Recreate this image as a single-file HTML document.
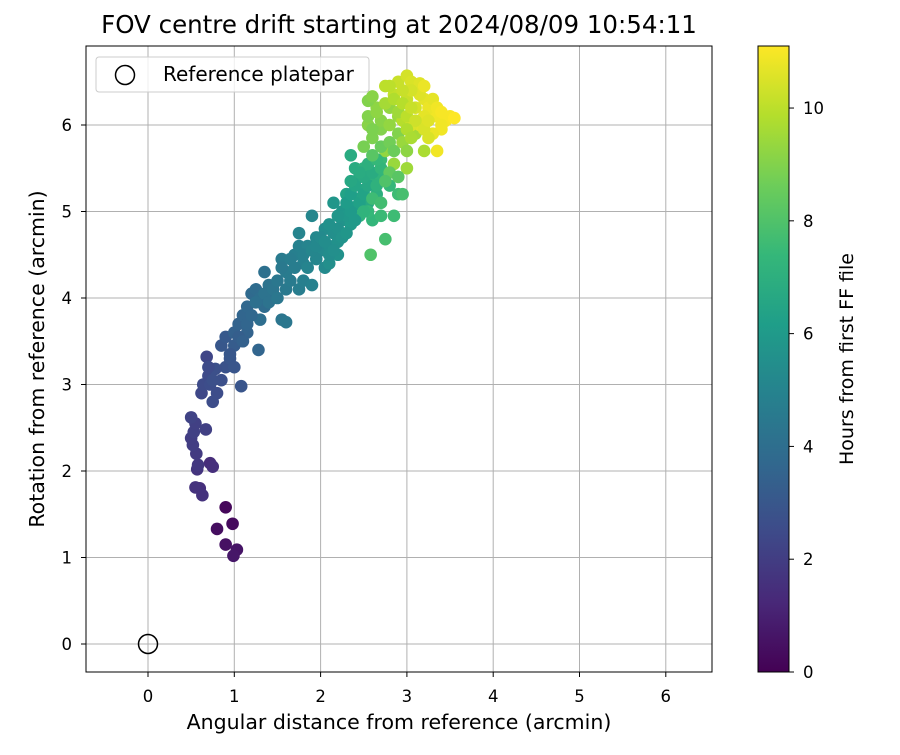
<!DOCTYPE html>
<html><head><meta charset="utf-8"><style>
body{margin:0;background:#fff;}
svg text{font-family:"DejaVu Sans","Liberation Sans",sans-serif;fill:#000;}
</style></head><body>
<svg id="chart" width="900" height="750" xmlns="http://www.w3.org/2000/svg"></svg>
<script>
const xs=[0.9,0.98,0.8,0.9,1.03,0.99,
0.6,0.55,0.63,0.72,0.75,0.57,0.58,0.56,0.52,0.5,0.53,0.55,0.5,0.67,
0.62,0.64,0.7,0.68,0.75,0.8,0.85,0.9,0.95,0.85,0.9,1.08,0.72,0.78,
1.0,1.05,1.1,1.15,1.2,1.25,1.3,1.3,1.28,1.15,1.35,1.4,1.55,1.6,1.45,1.35,
1.55,1.6,1.7,1.75,1.8,1.75,1.9,1.85,1.95,2.0,2.05,1.75,1.8,1.9,2.05,2.1,2.15,2.2,2.25,2.15,2.25,2.3,2.35,2.4,2.2,2.1,
2.4,2.45,2.5,2.35,2.4,2.55,2.6,2.5,2.45,2.45,2.6,2.7,2.85,2.75,2.58,2.55,2.3,2.65,2.7,2.8,2.9,2.95,2.7,
2.5,2.6,2.7,2.55,2.65,2.55,2.6,2.8,2.9,2.75,2.85,3.0,3.1,3.2,2.55,
2.75,2.85,2.9,3.0,3.05,3.1,3.15,3.2,3.25,3.3,3.35,3.45,3.5,3.55,3.4,3.3,3.15,3.1,3.0,2.95,3.2,3.35,3.4,3.05,
1.25,1.35,1.45,1.5,1.4,1.5,1.6,1.65,1.55,1.7,1.65,1.8,1.85,1.95,1.9,1.95,2.0,2.05,2.1,2.15,2.2,2.1,2.25,2.3,2.3,2.35,2.4,2.2,2.3,2.35,2.45,2.5,2.4,2.55,2.5,2.6,2.55,2.65,2.7,2.65,2.45,2.35,1.0,1.05,1.1,1.15,1.2,0.95,1.0,0.75,0.7,
2.6,2.7,2.8,2.85,2.9,2.6,2.7,2.8,2.9,2.65,2.75,2.85,2.95,3.0,3.05,3.1,3.0,2.95,3.05,3.2,3.25,3.3,3.15,3.2,3.05,2.95,2.8,3.35,3.4,3.25,3.0,2.8,2.9,2.75,2.6,2.7,2.5];
const ys=[1.58,1.39,1.33,1.15,1.09,1.02,
1.8,1.81,1.72,2.09,2.05,2.02,2.07,2.2,2.3,2.38,2.45,2.55,2.62,2.48,
2.9,3.0,3.1,3.32,2.8,2.9,3.05,3.2,3.3,3.45,3.55,2.98,3.0,3.18,
3.6,3.7,3.8,3.9,4.05,4.1,4.0,3.75,3.4,3.6,4.3,4.15,3.75,3.72,4.0,3.9,
4.45,4.3,4.5,4.6,4.4,4.75,4.95,4.6,4.7,4.55,4.35,4.1,4.2,4.15,4.8,4.6,4.75,4.65,4.9,5.1,5.0,5.2,4.85,5.05,4.5,4.4,
5.3,5.4,5.25,5.65,5.5,5.1,5.35,5.5,5.15,4.95,4.9,4.95,4.95,4.68,4.5,5.0,5.2,5.2,5.4,5.3,5.2,5.2,5.6,
5.75,5.85,5.95,6.0,6.2,6.28,6.33,6.2,6.1,5.7,5.55,5.5,5.9,5.7,6.1,
6.45,6.35,6.5,6.57,6.5,6.4,6.48,6.3,6.2,6.15,6.1,6.05,6.1,6.08,5.95,5.9,6.0,6.2,6.3,6.05,6.1,5.7,6.0,6.0,
3.95,4.05,4.1,4.2,3.95,4.0,4.1,4.2,4.35,4.35,4.45,4.5,4.35,4.45,4.55,4.6,4.7,4.65,4.5,4.55,4.8,4.85,4.7,4.75,4.95,5.0,4.9,4.95,5.1,5.2,5.1,5.2,5.3,5.3,5.4,5.45,5.55,5.3,5.5,5.6,5.45,5.35,3.45,3.55,3.5,3.7,3.8,3.35,3.2,3.05,3.2,
5.65,5.75,5.8,5.7,5.9,5.95,6.05,6.0,6.15,6.15,6.25,6.3,6.25,6.1,6.2,6.05,5.95,5.8,5.85,5.95,6.05,6.3,6.35,6.45,6.4,6.4,6.45,6.2,6.15,5.85,5.7,5.45,5.4,5.35,5.15,5.1,5.0];
const hours=[0.2,0.3,0.4,0.5,0.6,0.7,
1.5,1.6,1.6,1.4,1.5,1.7,1.8,1.9,2.0,2.0,2.1,2.1,2.2,2.1,
2.4,2.5,2.5,2.3,2.6,2.6,2.7,2.8,2.9,3.0,3.1,2.9,2.6,2.7,
3.4,3.5,3.6,3.7,3.8,3.9,4.0,4.0,3.6,3.5,4.1,4.2,4.3,4.4,4.1,3.9,
4.6,4.6,4.8,4.9,4.9,5.0,5.1,5.0,5.2,5.3,5.3,4.7,4.8,4.9,5.4,5.4,5.5,5.6,5.7,5.8,5.8,6.0,6.0,6.2,5.6,5.5,
6.3,6.5,6.6,6.8,6.8,6.7,7.0,7.1,6.5,7.2,7.3,7.5,7.6,7.8,8.0,7.4,6.4,7.0,7.2,7.4,7.6,7.8,7.5,
8.8,8.9,9.0,9.1,9.2,9.0,9.1,9.3,9.4,9.3,9.4,9.5,9.6,9.7,9.0,
10.0,10.1,10.2,10.4,10.5,10.5,10.6,10.7,10.8,10.8,10.9,11.0,11.0,11.1,10.9,10.8,10.6,10.4,10.2,9.9,10.7,10.9,10.9,10.5,
4.1,4.2,4.3,4.4,4.2,4.4,4.5,4.6,4.5,4.7,4.7,4.9,5.0,5.1,5.1,5.2,5.3,5.4,5.4,5.5,5.6,5.6,5.7,5.8,5.9,6.0,6.0,5.8,6.1,6.2,6.3,6.4,6.5,6.6,6.7,6.8,7.0,7.1,7.3,7.4,6.8,6.6,3.2,3.3,3.4,3.6,3.7,3.0,2.9,2.7,2.5,
8.2,8.5,8.7,8.6,9.0,8.9,9.1,9.3,9.5,9.2,9.6,9.8,9.9,10.0,10.2,10.3,9.8,9.4,9.7,10.5,10.6,10.7,10.6,10.8,10.4,10.2,10.0,10.9,11.0,10.5,9.2,8.4,8.2,8.0,7.6,7.7,7.2];
const xTicks=[0,1,2,3,4,5,6], yTicks=[0,1,2,3,4,5,6], cTicks=[0,2,4,6,8,10];
const NS="http://www.w3.org/2000/svg", svg=document.getElementById('chart');
const L=86,R=712,T=46,B=672;
const sx=v=>148+v*86.3, sy=v=>644-v*86.5;
const cmin=0,cmax=11.1, cy=v=>672-(v-cmin)/(cmax-cmin)*626;
const vir=[[68,1,84],[72,40,120],[62,74,137],[49,104,142],[38,130,142],[31,158,137],[53,183,121],[109,205,89],[180,222,44],[253,231,37]];
function col(t){t=Math.max(0,Math.min(1,t))*9;const i=Math.min(8,Math.floor(t)),f=t-i;const a=vir[i],b=vir[i+1];return `rgb(${a.map((c,k)=>Math.round(c+(b[k]-c)*f)).join(',')})`;}
function el(tag,attrs,txt){const e=document.createElementNS(NS,tag);for(const k in attrs)e.setAttribute(k,attrs[k]);if(txt!=null)e.textContent=txt;svg.appendChild(e);return e;}
let e;
e=el('text',{x:399,y:33,'text-anchor':'middle','font-size':24.5},'FOV centre drift starting at 2024/08/09 10:54:11');


xTicks.forEach(v=>{const x=sx(v);
e=el('line',{x1:x,x2:x,y1:T,y2:B,stroke:'#b0b0b0','stroke-width':1});


el('line',{x1:x,x2:x,y1:B,y2:B+5,stroke:'#000'});
e=el('text',{x:x,y:B+30,'text-anchor':'middle','font-size':16.5},String(v));

});
yTicks.forEach(v=>{const y=sy(v);
e=el('line',{x1:L,x2:R,y1:y,y2:y,stroke:'#b0b0b0','stroke-width':1});


el('line',{x1:L-5,x2:L,y1:y,y2:y,stroke:'#000'});
e=el('text',{x:L-14,y:y+6,'text-anchor':'end','font-size':16.5},String(v));

});
xs.forEach((x,i)=>{e=el('circle',{cx:sx(x),cy:sy(ys[i]),r:6.3,fill:col((hours[i]-cmin)/(cmax-cmin))});

});
e=el('circle',{cx:sx(0),cy:sy(0),r:9.5,fill:'none',stroke:'#000','stroke-width':1.5});


e=el('rect',{x:L,y:T,width:R-L,height:B-T,fill:'none',stroke:'#000','stroke-width':1});


e=el('rect',{x:96,y:57,width:273,height:35,rx:3,fill:'#fff','fill-opacity':0.8,stroke:'#ccc'});


el('circle',{cx:125,cy:75,r:9.5,fill:'none',stroke:'#000','stroke-width':1.5});
e=el('text',{x:163,y:81,'font-size':20},'Reference platepar');


e=el('text',{x:399,y:729,'text-anchor':'middle','font-size':20.5},'Angular distance from reference (arcmin)');


e=el('text',{x:0,y:0,'text-anchor':'middle','font-size':20.5,transform:'translate(44,359) rotate(-90)'},'Rotation from reference (arcmin)');


const defs=el('defs',{});const g=document.createElementNS(NS,'linearGradient');g.setAttribute('id','vg');g.setAttribute('x1','0');g.setAttribute('y1','1');g.setAttribute('x2','0');g.setAttribute('y2','0');defs.appendChild(g);
vir.forEach((c,i)=>{const s=document.createElementNS(NS,'stop');s.setAttribute('offset',i/9);s.setAttribute('stop-color',`rgb(${c})`);g.appendChild(s);});
e=el('rect',{x:758,y:46,width:31,height:626,fill:'url(#vg)',stroke:'#000','stroke-width':1});


cTicks.forEach(v=>{const y=cy(v);el('line',{x1:789,x2:794,y1:y,y2:y,stroke:'#000'});
e=el('text',{x:803,y:y+6,'font-size':16.5},String(v));

});
e=el('text',{x:0,y:0,'text-anchor':'middle','font-size':19,transform:'translate(853,359) rotate(-90)'},'Hours from first FF file');


</script>
</body></html>
